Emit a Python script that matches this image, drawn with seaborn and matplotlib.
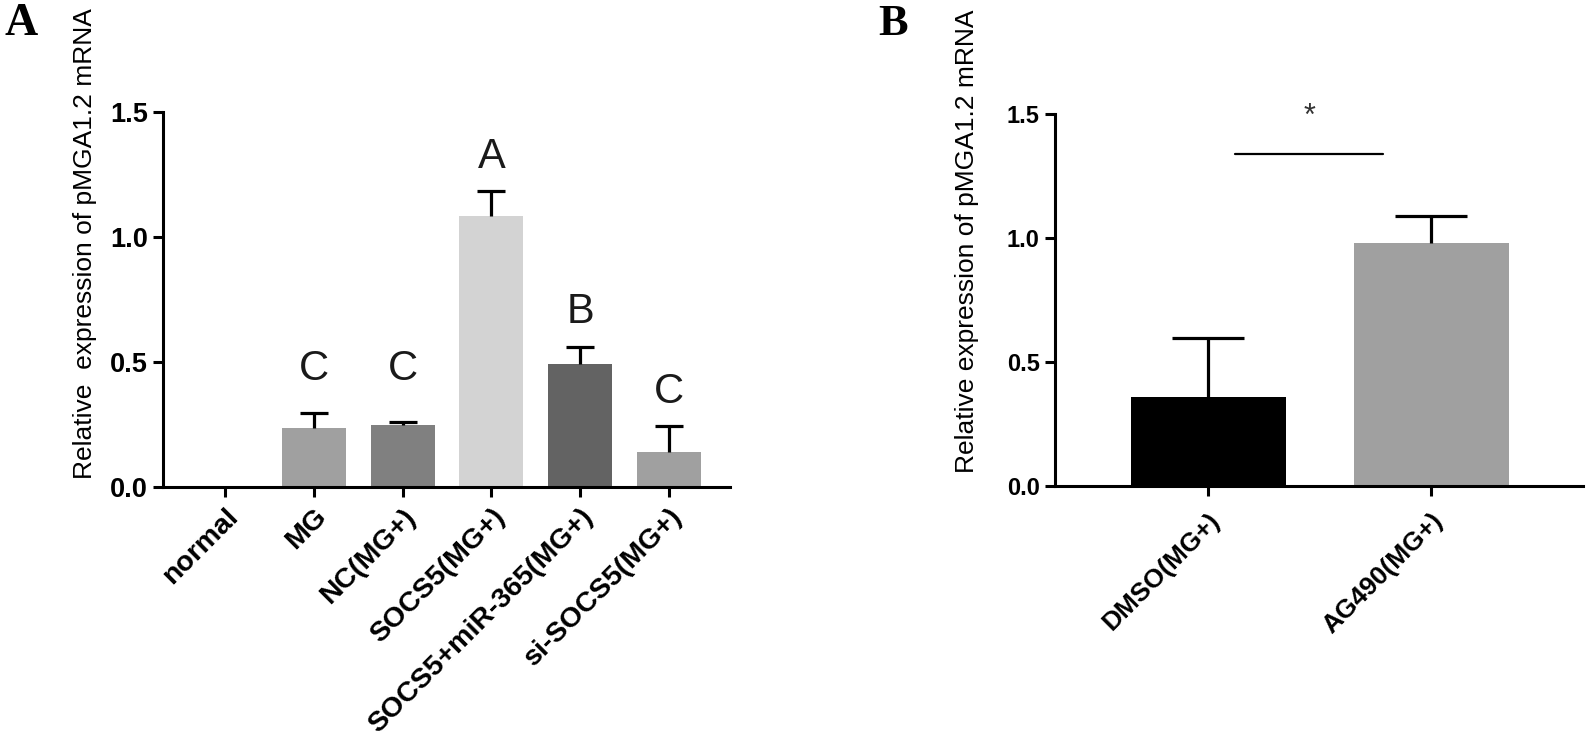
import numpy as np
import matplotlib
matplotlib.use("Agg")
import matplotlib.pyplot as plt
import seaborn as sns

# ----------------------
# Data
groups_a = ['normal', 'MG', 'NC(MG+)', 'SOCS5(MG+)', 'SOCS5+miR-365(MG+)', 'si-SOCS5(MG+)']
means_a = [0.0, 0.235, 0.248, 1.085, 0.49, 0.14]
errs_a = [0.0, 0.062, 0.012, 0.10, 0.068, 0.105]
letters_a = ['', 'C', 'C', 'A', 'B', 'C']
letter_y_a = [0.0, 0.47, 0.47, 1.32, 0.70, 0.38]
colors_a = ['#a0a0a0', '#a0a0a0', '#808080', '#d3d3d3', '#636363', '#a0a0a0']

groups_b = ['DMSO(MG+)', 'AG490(MG+)']
means_b = [0.36, 0.98]
errs_b = [0.237, 0.11]
colors_b = ['#000000', '#a0a0a0']
sig_x = [0.12, 0.785]
sig_y = 1.34

ylabel_a = 'Relative  expression of pMGA1.2 mRNA'
ylabel_b = 'Relative expression of pMGA1.2 mRNA'

# ----------------------
sns.set_style('ticks')
plt.rcParams['font.family'] = ['Liberation Sans', 'DejaVu Sans']
plt.rcParams['text.color'] = 'black'
plt.rcParams['axes.labelcolor'] = 'black'
plt.rcParams['xtick.color'] = 'black'
plt.rcParams['ytick.color'] = 'black'

fig = plt.figure(figsize=(15.86, 7.42), dpi=100)
ax_a = fig.add_axes([0.1028, 0.3437, 0.3575, 0.5054])
ax_b = fig.add_axes([0.6652, 0.345, 0.3329, 0.5013])


def upper_errbars(ax, xs, ys, es, capsize):
    keep = [i for i, e in enumerate(es) if e > 0]
    eb = ax.errorbar([xs[i] for i in keep], [ys[i] for i in keep],
                     yerr=[[0] * len(keep), [es[i] for i in keep]],
                     fmt='none', ecolor='black', elinewidth=2.3,
                     capsize=capsize, capthick=2.3, zorder=3)
    eb[1][0].set_visible(False)  # hide the lower caps


def style_axis(ax, ylabel, tick_size, label_xy, xlab_size, xpad):
    ax.set_ylim(0, 1.5)
    ax.set_yticks([0.0, 0.5, 1.0, 1.5])
    ax.set_yticklabels(['0.0', '0.5', '1.0', '1.5'], fontsize=tick_size, fontweight='bold')
    ax.set_ylabel(ylabel, fontsize=19)
    ax.yaxis.set_label_coords(*label_xy)
    ax.yaxis.label.set_va('center')
    ax.set_xlabel('')
    sns.despine(ax=ax)
    for s in ['left', 'bottom']:
        ax.spines[s].set_linewidth(2.2)
        ax.spines[s].set_color('black')
    ax.tick_params(axis='both', width=2.2, length=7, color='black', pad=4)
    ax.tick_params(axis='x', pad=xpad)
    plt.setp(ax.get_xticklabels(), rotation=45, ha='right', rotation_mode='anchor',
             fontsize=xlab_size, fontweight='bold')


# Panel A
sns.barplot(x=groups_a, y=means_a, hue=groups_a, palette=colors_a, legend=False,
            width=0.72, linewidth=0, saturation=1, ax=ax_a)
upper_errbars(ax_a, list(range(len(groups_a))), means_a, errs_a, capsize=10)
for i, (lt, ly) in enumerate(zip(letters_a, letter_y_a)):
    if lt:
        ax_a.text(i, ly, lt, ha='center', va='center', fontsize=30, color='#1a1a1a')
ax_a.set_xlim(-0.70, 5.69)
style_axis(ax_a, ylabel_a, 19.5, (-0.137, 0.65), 20.5, 5)

# Panel B
sns.barplot(x=groups_b, y=means_b, hue=groups_b, palette=colors_b, legend=False,
            width=0.695, linewidth=0, saturation=1, ax=ax_b)
upper_errbars(ax_b, [0, 1], means_b, errs_b, capsize=26)
ax_b.plot(sig_x, [sig_y, sig_y], color='black', lw=1.6)
ax_b.text(np.mean(sig_x), 1.49, '*', ha='center', va='center', fontsize=22, color='#333333')
ax_b.set_xlim(-0.686, 1.68)
style_axis(ax_b, ylabel_b, 17, (-0.167, 0.658), 19, 9)

# Panel letters
fig.text(0.003, 0.968, 'A', fontsize=33, fontweight='bold', family='Liberation Serif', va='center')
fig.text(0.5536, 0.968, 'B', fontsize=32, fontweight='bold', family='Liberation Serif', va='center')

fig.savefig('out.png', dpi=100, facecolor='white')
